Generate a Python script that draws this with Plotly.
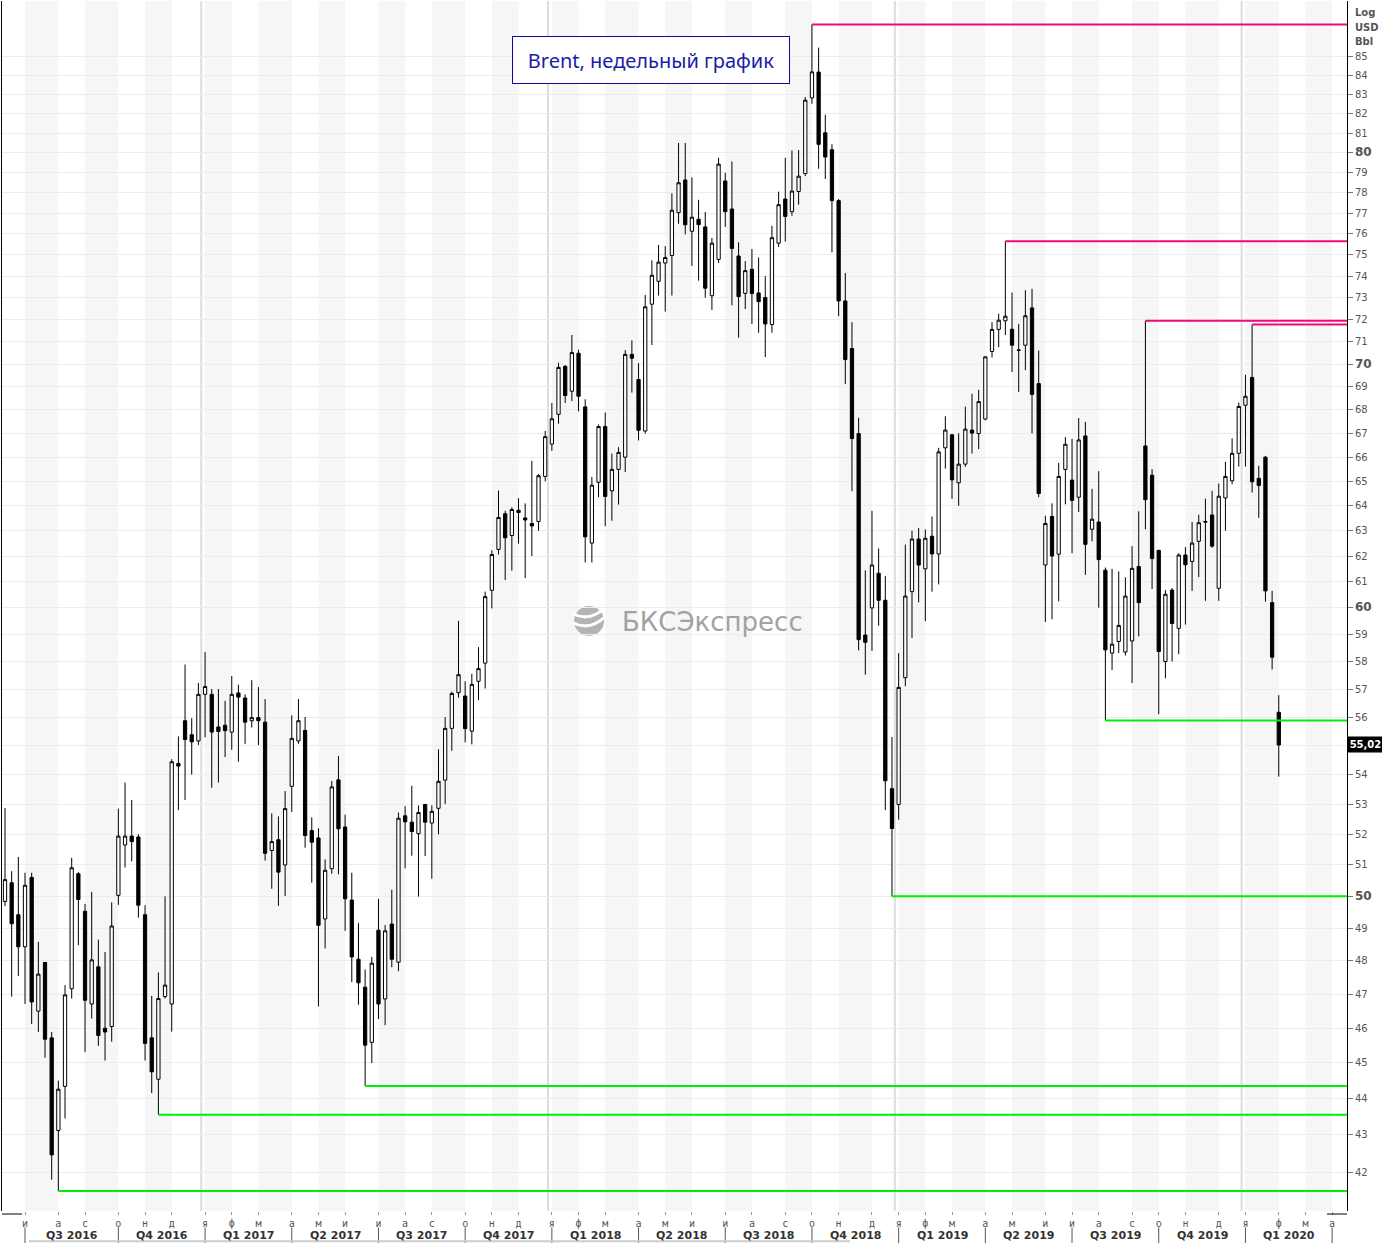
import numpy as np
import pandas as pd
import plotly.graph_objects as go

# ---------------- data (weekly Brent candles, USD/bbl) ----------------
first_week = "2016-06-06"
n_weeks = 192

opens = [
    49.84, 50.43, 49.42, 48.43, 50.6, 46.5, 47.95, 45.72, 43.12, 44.34,
    47.16, 50.72, 49.53, 46.71, 47.82, 46.0, 46.05, 50.03, 51.65, 51.94,
    51.91, 49.42, 45.72, 44.54, 46.93, 46.71, 54.38, 55.87, 55.38, 55.16,
    56.81, 56.81, 55.65, 55.71, 55.47, 56.86, 56.68, 55.87, 55.98, 55.82,
    51.47, 51.82, 51.0, 53.6, 55.16, 55.53, 52.12, 51.88, 49.29, 50.88,
    53.82, 52.24, 49.88, 48.05, 47.21, 45.59, 48.94, 46.86, 49.13, 47.96,
    52.61, 52.4, 52.02, 52.99, 52.37, 52.86, 53.81, 55.6, 56.87, 56.75,
    55.5, 57.28, 57.94, 60.67, 62.26, 63.68, 62.81, 63.82, 63.51, 63.29,
    63.37, 65.2, 66.55, 67.81, 69.9, 68.81, 70.48, 68.13, 62.51, 64.96,
    67.29, 64.61, 65.49, 66.0, 70.43, 69.32, 67.1, 72.7, 73.76, 74.62,
    74.97, 77.03, 78.64, 76.13, 76.71, 76.34, 73.09, 74.79, 78.59, 77.21,
    74.95, 73.2, 74.32, 73.22, 73.01, 71.77, 75.56, 77.7, 77.08, 78.07,
    78.96, 82.83, 84.19, 81.02, 80.16, 77.62, 72.85, 70.69, 66.99, 58.98,
    60.0, 61.33, 60.29, 53.52, 52.99, 57.41, 60.62, 62.67, 61.5, 62.78,
    62.08, 66.39, 66.94, 64.94, 65.71, 67.14, 66.99, 67.61, 70.56, 71.55,
    71.94, 71.56, 70.63, 70.84, 72.53, 69.14, 61.65, 63.57, 62.07, 65.49,
    65.05, 64.35, 66.89, 63.06, 63.35, 61.45, 58.31, 58.74, 58.35, 58.76,
    61.59, 66.47, 65.25, 62.22, 58.0, 60.68, 59.23, 62.04, 61.79, 62.58,
    63.34, 63.63, 60.75, 64.32, 65.02, 66.16, 68.2, 69.41, 65.12, 66.0,
    60.2, 56.17,
]
highs = [
    52.87, 50.8, 51.26, 50.75, 50.75, 48.58, 47.97, 45.89, 44.5, 47.27,
    51.23, 50.77, 49.76, 50.14, 48.65, 48.27, 49.81, 52.85, 53.73, 53.14,
    52.0, 49.72, 46.95, 47.65, 50.0, 54.53, 55.32, 57.89, 55.96, 57.22,
    58.35, 57.0, 57.0, 56.58, 57.47, 57.16, 56.81, 57.32, 57.07, 56.64,
    52.69, 52.59, 53.44, 56.06, 56.64, 56.0, 52.56, 52.2, 51.18, 53.78,
    54.64, 52.65, 50.75, 49.16, 47.74, 48.12, 49.92, 49.1, 50.21, 52.72,
    52.93, 53.62, 52.96, 53.0, 52.96, 54.87, 56.0, 56.91, 59.51, 57.28,
    57.55, 58.53, 60.62, 62.23, 64.62, 63.8, 63.94, 64.31, 64.1, 65.84,
    65.3, 67.1, 68.3, 70.06, 69.96, 71.3, 70.64, 68.46, 65.18, 67.38,
    67.89, 66.15, 66.42, 70.62, 71.06, 70.04, 73.13, 74.74, 75.47, 75.42,
    77.98, 80.5, 80.5, 78.77, 77.66, 77.06, 75.81, 79.75, 79.0, 79.56,
    75.6, 74.71, 75.28, 74.88, 74.0, 76.39, 78.06, 79.75, 80.12, 80.14,
    82.87, 86.76, 85.5, 81.95, 80.44, 77.7, 74.15, 71.88, 67.66, 61.44,
    63.8, 62.3, 61.22, 55.3, 58.31, 62.45, 63.0, 63.11, 63.05, 63.57,
    66.39, 67.73, 66.96, 67.0, 68.14, 68.7, 68.87, 70.34, 71.88, 72.27,
    75.65, 73.24, 71.8, 73.35, 73.41, 70.6, 63.6, 64.1, 65.76, 66.84,
    66.77, 67.65, 67.49, 64.69, 65.42, 61.55, 61.5, 61.4, 61.17, 62.39,
    63.78, 71.94, 65.5, 62.25, 60.68, 60.76, 62.11, 62.35, 63.35, 63.64,
    64.29, 64.61, 64.91, 65.8, 66.79, 68.32, 69.53, 71.77, 65.64, 66.05,
    60.65, 56.78,
]
lows = [
    49.69, 46.93, 47.54, 46.71, 46.12, 45.89, 45.15, 41.8, 41.5, 43.45,
    46.87, 48.48, 45.31, 46.28, 45.49, 45.07, 45.61, 49.73, 50.92, 51.12,
    49.33, 45.07, 44.15, 43.55, 46.87, 45.9, 52.8, 53.14, 54.0, 55.02,
    55.29, 53.55, 53.73, 54.6, 54.85, 54.44, 55.06, 55.63, 55.02, 51.14,
    50.24, 49.7, 50.01, 52.74, 55.06, 51.56, 50.43, 46.64, 48.38, 50.72,
    50.7, 48.92, 47.36, 46.69, 44.35, 45.0, 46.27, 46.09, 47.81, 47.69,
    50.89, 51.3, 49.99, 51.29, 50.56, 52.0, 53.0, 54.82, 56.69, 55.11,
    55.04, 56.6, 57.02, 59.98, 62.06, 61.07, 61.43, 62.49, 61.14, 62.0,
    63.0, 65.0, 66.26, 67.41, 68.3, 68.38, 67.94, 61.75, 61.75, 64.35,
    63.18, 63.4, 64.05, 65.38, 68.75, 66.7, 66.99, 70.85, 73.1, 72.36,
    73.1, 76.49, 75.98, 74.48, 73.79, 73.0, 72.44, 74.62, 76.34, 72.65,
    71.18, 72.48, 71.8, 71.4, 70.31, 71.4, 75.38, 75.63, 76.88, 77.42,
    78.83, 82.52, 79.2, 78.69, 75.12, 72.15, 69.12, 64.59, 58.41, 57.52,
    58.39, 59.33, 52.8, 50.0, 52.48, 57.1, 58.87, 60.21, 59.5, 60.62,
    60.9, 65.52, 64.28, 64.0, 65.6, 66.15, 66.34, 67.55, 70.29, 70.75,
    71.3, 69.65, 68.78, 69.73, 67.0, 64.35, 59.47, 59.57, 60.25, 64.06,
    62.11, 63.75, 61.27, 62.58, 60.01, 55.88, 57.69, 58.31, 58.22, 57.22,
    58.93, 63.06, 60.72, 56.1, 57.39, 58.0, 58.27, 59.37, 60.65, 61.18,
    60.27, 62.32, 60.27, 63.0, 64.88, 65.61, 65.61, 64.54, 63.52, 60.24,
    57.71, 53.93,
]
closes = [
    50.53, 49.14, 48.43, 50.35, 46.77, 47.6, 45.68, 42.46, 44.26, 46.98,
    50.91, 49.9, 46.82, 48.03, 45.79, 45.89, 49.07, 51.94, 51.94, 51.76,
    49.72, 45.56, 44.75, 46.87, 47.27, 54.44, 54.29, 55.21, 55.13, 56.81,
    57.09, 55.47, 55.49, 55.52, 56.81, 56.71, 55.82, 55.98, 55.87, 51.38,
    51.76, 50.77, 52.85, 55.25, 55.87, 51.96, 51.74, 49.09, 50.83, 53.58,
    52.18, 49.92, 48.12, 47.34, 45.51, 47.93, 46.71, 48.92, 48.05, 52.53,
    52.41, 52.09, 52.72, 52.4, 52.76, 53.77, 55.6, 56.84, 57.52, 55.59,
    57.17, 57.74, 60.43, 62.06, 63.53, 62.72, 63.85, 63.73, 63.43, 63.19,
    65.23, 66.86, 67.62, 69.85, 68.62, 70.51, 68.59, 62.76, 64.84, 67.29,
    64.38, 65.49, 66.2, 70.43, 70.26, 67.13, 72.58, 74.04, 74.66, 74.88,
    77.15, 78.5, 76.44, 76.81, 76.45, 73.44, 75.56, 79.43, 77.08, 75.31,
    73.05, 74.26, 73.19, 72.82, 71.8, 75.82, 77.42, 76.85, 78.09, 78.83,
    82.71, 84.2, 80.43, 79.79, 77.62, 72.85, 70.2, 66.78, 58.81, 58.71,
    61.65, 60.29, 53.79, 52.19, 57.06, 60.45, 62.67, 61.65, 62.7, 62.08,
    66.22, 67.14, 65.06, 65.71, 67.18, 67.01, 68.36, 70.32, 71.55, 71.97,
    72.15, 70.84, 70.61, 72.17, 68.67, 64.5, 63.29, 62.0, 65.2, 66.54,
    64.22, 66.72, 62.46, 63.46, 61.86, 58.43, 58.64, 59.34, 60.45, 61.52,
    60.2, 64.25, 61.9, 58.37, 60.52, 59.41, 62.04, 61.66, 62.51, 63.32,
    63.37, 62.39, 64.39, 65.2, 66.16, 68.15, 68.59, 64.98, 64.83, 60.65,
    58.16, 55.02,
]

# weeks whose high / low is marked by a resistance / support line
resist_weeks = ["2018-10-01", "2019-04-22", "2019-09-16", "2020-01-06"]
support_weeks = ["2016-08-01", "2016-11-14", "2017-06-19", "2018-12-24", "2019-08-05"]

price_ticks = list(range(42, 86))
bold_ticks = [50, 60, 70, 80]
hidden_ticks = [55]          # covered by the last-price tag
month_letters = {1: "я", 2: "ф", 3: "м", 4: "а", 5: "м", 6: "и",
                 7: "и", 8: "а", 9: "с", 10: "о", 11: "н", 12: "д"}
title_text = "Brent, недельный график"
watermark_text = "БКСЭкспресс"

# ---------------- geometry helpers ----------------
weeks = pd.date_range(first_week, periods=n_weeks, freq="7D")
ext_weeks = pd.date_range(first_week, periods=n_weeks + 12, freq="7D")
px_per_week = 6.669
plot_w_px = 1345
x_start = weeks[0] - pd.Timedelta(days=0.45 * 7)
x_end = x_start + pd.Timedelta(days=plot_w_px / px_per_week * 7)

fridays = ext_weeks + pd.Timedelta(days=4)
tick_idx = [i for i in range(1, len(ext_weeks)) if fridays[i].month != fridays[i - 1].month]
tick_dates = [ext_weeks[i] for i in tick_idx]
tick_months = [fridays[i].month for i in tick_idx]
tick_years = [fridays[i].year for i in tick_idx]

fig = go.Figure()

fig.add_trace(go.Candlestick(
    x=weeks, open=opens, high=highs, low=lows, close=closes,
    increasing=dict(line=dict(color="black", width=1), fillcolor="white"),
    decreasing=dict(line=dict(color="black", width=1), fillcolor="black"),
    whiskerwidth=0, showlegend=False,
))

shapes = []
# alternating month shading (odd months grey)
for k, d in enumerate(tick_dates):
    if tick_months[k] % 2 == 1:
        d1 = tick_dates[k + 1] if k + 1 < len(tick_dates) else x_end
        shapes.append(dict(type="rect", xref="x", yref="paper", x0=d, x1=d1, y0=0, y1=1,
                           fillcolor="#f6f6f6", line=dict(width=0), layer="below"))
# year separators
for k, d in enumerate(tick_dates):
    if tick_months[k] == 1:
        xd = d - pd.Timedelta(days=4)
        shapes.append(dict(type="line", xref="x", yref="paper", x0=xd, x1=xd, y0=0, y1=1,
                           line=dict(color="#dddddd", width=2), layer="below"))
# quarter separators under the axis
for k, d in enumerate(tick_dates):
    if tick_months[k] in (1, 4, 7, 10):
        shapes.append(dict(type="line", xref="x", yref="paper", x0=d, x1=d,
                           y0=-0.0135, y1=-0.0265, line=dict(color="#555555", width=1)))

# resistance (magenta) and support (green) lines starting at the extreme candle
wk_list = [str(w.date()) for w in weeks]
for w in resist_weeks:
    i = wk_list.index(w)
    shapes.append(dict(type="line", xref="x", yref="y", x0=weeks[i], x1=x_end,
                       y0=highs[i], y1=highs[i], line=dict(color="#ee0a7a", width=2)))
for w in support_weeks:
    i = wk_list.index(w)
    shapes.append(dict(type="line", xref="x", yref="y", x0=weeks[i], x1=x_end,
                       y0=lows[i], y1=lows[i], line=dict(color="#00ee00", width=2)))

# watermark logo
cx, cy, rx, ry = (589 - 2) / 1345, (1211 - 621) / 1210, 15 / 1345, 15 / 1210
shapes.append(dict(type="circle", xref="paper", yref="paper", x0=cx - rx, x1=cx + rx,
                   y0=cy - ry, y1=cy + ry, fillcolor="#b4b4b4", line=dict(width=0), layer="below"))
for off in (-0.45, 0.15):
    shapes.append(dict(type="path", xref="paper", yref="paper",
                       path=(f"M {cx - rx * 1.1} {cy + ry * (off + 0.35)} "
                             f"Q {cx} {cy + ry * (off - 0.25)} {cx + rx * 1.1} {cy + ry * (off + 0.75)}"),
                       line=dict(color="white", width=3), layer="below"))

# bottom frame corners and scroll bar
shapes += [
    dict(type="line", xref="paper", yref="paper", x0=0, x1=20 / 1345, y0=-0.0025, y1=-0.0025,
         line=dict(color="black", width=1)),
    dict(type="line", xref="paper", yref="paper", x0=1 - 20 / 1345, x1=1, y0=-0.0025, y1=-0.0025,
         line=dict(color="black", width=1)),
    dict(type="line", xref="paper", yref="paper", x0=27 / 1345, x1=848 / 1345, y0=-0.0250, y1=-0.0250,
         line=dict(color="#cccccc", width=2)),
]

annotations = []
# quarter labels
q_idx = [k for k in range(len(tick_dates)) if tick_months[k] in (1, 4, 7, 10)]
for a, b in zip(q_idx[:-1], q_idx[1:]):
    da, db = tick_dates[a], tick_dates[b]
    mid = da + (db - da) / 2
    q = (tick_months[a] - 1) // 3 + 1
    annotations.append(dict(x=mid, y=-0.0205, xref="x", yref="paper", showarrow=False,
                            text=f"<b>Q{q} {tick_years[a]}</b>", yanchor="middle",
                            font=dict(family="DejaVu Sans", size=11, color="#333333")))

# axis header
for txt, yp in (("Log", 12.5), ("USD", 27), ("Bbl", 41)):
    annotations.append(dict(x=1.0045, y=(1211 - yp) / 1210, xref="paper", yref="paper",
                            xanchor="left", yanchor="middle", showarrow=False,
                            text=f"<b>{txt}</b>",
                            font=dict(family="DejaVu Sans", size=10, color="#555555")))
# last price tag
annotations.append(dict(x=1.0, y=np.log10(closes[-1]), xref="paper", yref="y",
                        xanchor="left", yanchor="middle", showarrow=False,
                        text="<b>" + f"{closes[-1]:.2f}".replace(".", ",") + "</b>",
                        bgcolor="black", borderpad=2, width=31, align="center",
                        font=dict(family="DejaVu Sans", size=10, color="white")))
# title box
annotations.append(dict(x=(651 - 2) / 1345, y=(1211 - 60.5) / 1210, xref="paper", yref="paper",
                        xanchor="center", yanchor="middle", showarrow=False,
                        text=title_text, width=270, height=40, borderpad=3,
                        bordercolor="#0a0aa0", borderwidth=1, bgcolor="white",
                        font=dict(family="Noto Sans", size=20, color="#1c1ca6")))
# watermark text
annotations.append(dict(x=(713 - 2) / 1345, y=(1211 - 622) / 1210, xref="paper", yref="paper",
                        xanchor="center", yanchor="middle", showarrow=False,
                        text=watermark_text,
                        font=dict(family="DejaVu Sans", size=26, color="#a2a2a2")))

tick_text_y = []
for p in price_ticks:
    if p in hidden_ticks:
        tick_text_y.append("")
    elif p in bold_ticks:
        tick_text_y.append(f"<span style='font-size:12px'><b>{p}</b></span>")
    else:
        tick_text_y.append(str(p))

fig.update_layout(
    width=1382, height=1243,
    margin=dict(l=2, r=35, t=1, b=32),
    paper_bgcolor="white", plot_bgcolor="white",
    showlegend=False,
    shapes=shapes, annotations=annotations,
    xaxis=dict(
        type="date", range=[str(x_start), str(x_end)],
        rangeslider=dict(visible=False),
        tickmode="array", tickvals=tick_dates, ticktext=[month_letters[m] for m in tick_months],
        ticks="outside", ticklen=3, tickcolor="#999999", tickwidth=1,
        tickfont=dict(family="DejaVu Sans Mono", size=10, color="#555555"),
        showgrid=False, zeroline=False, showline=False,
    ),
    yaxis=dict(
        type="log", side="right",
        range=[np.log10(40.98), np.log10(88.06)],
        tickmode="array", tickvals=price_ticks, ticktext=tick_text_y,
        ticks="outside", ticklen=5, tickcolor="#777777", tickwidth=1,
        tickfont=dict(family="DejaVu Sans", size=10, color="#555555"),
        showgrid=True, gridcolor="#ececec", gridwidth=1,
        showline=True, linecolor="black", linewidth=1, mirror=True,
        zeroline=False,
    ),
)

fig.write_html("out.html", config={"displayModeBar": False},
               post_script="document.body.style.margin='0';document.body.style.overflow='hidden';")
